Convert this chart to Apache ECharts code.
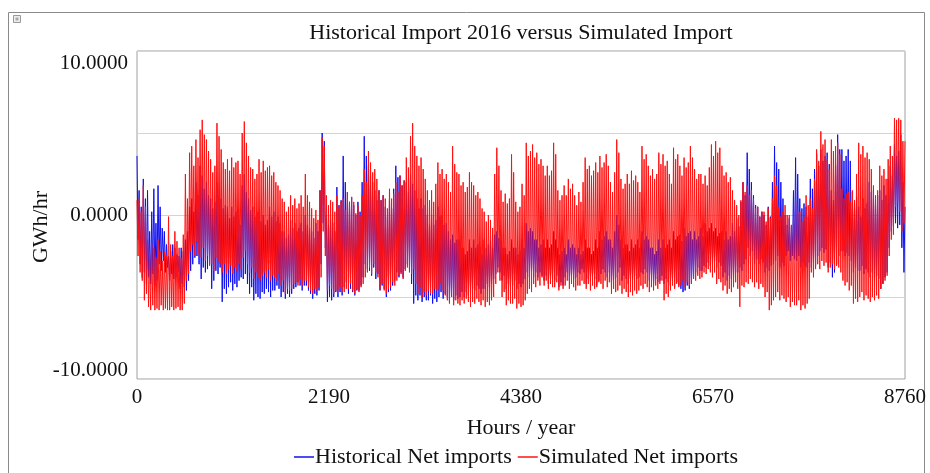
<!DOCTYPE html>
<html>
<head>
<meta charset="utf-8">
<script src="https://cdn.jsdelivr.net/npm/echarts@6/dist/echarts.min.js"></script>
<style>
html,body{margin:0;padding:0;background:#fff;}
#c{width:930px;height:473px;}
</style>
</head>
<body>
<div id="c"></div>
<script>
// Readings alternate daily high / daily low, one every 12 hours, starting at hour 0
var sampleHours = 12;

var xTicks = [0, 2190, 4380, 6570, 8760];
var yTickLabels = {"10": "10.0000", "0": "0.0000", "-10": "-10.0000"};

var seriesNames = ["Historical Net imports", "Simulated Net imports"];

// Historical Net imports (GWh/hr)
var historical = [
 3.6,-1.5, 1.5,-3.0, 0.5,-3.8, 2.2,-3.5, 1.0,-4.2,
 1.5,-3.8, -1.0,-4.2, 0.2,-3.6, 1.6,-4.3, -0.5,-4.0,
 1.8,-3.0, 0.5,-3.4, -0.8,-2.8, -1.0,-3.5, -1.8,-3.2,
 -2.5,-4.0, -2.2,-3.6, -1.8,-3.9, -2.0,-3.8, -2.4,-3.5,
 -2.5,-4.5, -2.0,-4.2, -2.2,-4.4, -1.5,-4.6, -1.0,-4.0,
 0.5,-3.4, 1.0,-3.0, 0.2,-2.6, 2.0,-2.5, 1.2,-3.0,
 3.0,-3.9, 2.4,-3.2, 1.6,-3.5, 2.0,-3.3, 1.2,-3.0,
 1.0,-4.5, 0.4,-4.0, 0.8,-3.4, 2.0,-3.6, 1.2,-3.2,
 1.0,-5.3, 0.4,-4.5, 0.6,-4.8, 0.5,-4.4, -0.2,-4.1,
 0.5,-4.6, -0.1,-4.2, 0.2,-4.4, 0.0,-4.0, -0.6,-3.8,
 1.8,-3.9, 2.5,-3.6, 1.4,-4.2, 1.0,-4.8, 0.3,-4.4,
 0.5,-5.2, -0.1,-4.8, 0.2,-5.0, 0.2,-5.1, -0.4,-4.7,
 0.0,-4.8, -0.6,-4.5, -0.3,-4.7, 0.5,-5.0, -0.1,-4.6,
 0.2,-4.6, -0.4,-4.3, -0.1,-4.5, -0.5,-5.0, -1.0,-4.7,
 -1.0,-5.1, -1.4,-4.8, -1.2,-5.0, -0.3,-4.8, -0.8,-4.5,
 -0.5,-4.4, -1.0,-4.1, -0.8,-4.3, -0.5,-4.6, -1.0,-4.3,
 0.0,-4.3, -0.6,-4.6, -0.8,-4.8, -1.0,-5.1, -1.4,-4.8,
 -0.5,-4.9, -1.0,-4.6, 1.5,-3.0, 5.0,-0.5, 4.5,-2.0,
 0.0,-5.3, -0.6,-5.0, -0.3,-5.2, -0.5,-5.0, -1.0,-4.7,
 1.7,-5.0, 0.6,-4.7, 0.9,-4.9, 3.6,-4.4, 2.0,-4.1,
 1.4,-4.8, 0.8,-4.5, 1.1,-4.7, 0.6,-4.9, 0.0,-4.6,
 0.8,-4.6, 0.2,-4.3, 2.0,-3.8, 4.8,-3.0, 3.6,-3.3,
 3.0,-3.4, 2.4,-3.7, 2.0,-3.2, 1.5,-3.9, 0.9,-3.6,
 1.5,-4.6, 0.9,-4.3, 1.2,-4.5, 0.5,-5.0, -0.1,-4.7,
 1.0,-4.6, 0.4,-4.3, 1.6,-4.0, 3.0,-3.5, 2.3,-3.8,
 2.4,-3.5, 1.8,-3.8, 2.1,-3.3, 2.0,-3.0, 1.4,-3.3,
 2.5,-4.2, 1.9,-5.4, 1.5,-4.9, 1.0,-5.2, 0.4,-4.9,
 1.0,-5.3, 0.4,-5.0, 0.6,-5.2, 0.0,-5.2, -0.6,-4.9,
 0.0,-5.4, -0.6,-5.1, -0.3,-5.3, 0.5,-5.0, -0.1,-4.7,
 0.0,-5.1, -0.6,-4.8, -0.5,-5.0, -1.0,-5.3, -1.5,-5.0,
 -1.2,-5.2, -1.7,-4.9, -1.5,-5.1, -1.5,-5.0, -2.0,-4.7,
 -2.0,-5.0, -2.4,-4.7, -2.2,-4.9, -1.5,-4.8, -2.0,-4.5,
 -1.5,-4.6, -2.0,-4.3, -1.8,-4.5, -2.0,-4.8, -2.4,-4.5,
 -1.5,-4.5, -2.0,-4.2, -1.8,-4.4, -1.5,-4.2, -2.0,-3.9,
 -1.2,-3.6, -1.0,-3.2, -1.4,-3.5, -1.5,-4.0, -2.0,-3.7,
 -2.0,-4.5, -2.4,-4.2, -2.2,-4.4, -1.5,-4.3, -2.0,-4.0,
 -2.0,-4.5, -2.4,-4.2, -2.2,-4.4, -1.5,-4.2, -2.0,-3.9,
 -0.5,-3.5, -1.0,-3.8, -0.8,-3.4, -1.0,-3.8, -1.5,-3.5,
 -1.5,-3.8, -2.0,-3.5, -1.8,-3.7, -1.5,-4.0, -2.0,-3.7,
 -1.5,-4.2, -2.0,-3.9, -1.8,-4.1, -1.0,-4.0, -1.5,-3.7,
 -2.0,-4.4, -2.4,-4.1, -2.2,-4.3, -2.0,-3.8, -2.4,-3.5,
 -1.5,-4.0, -2.0,-3.7, -1.8,-3.9, -2.0,-3.8, -2.4,-3.5,
 -2.0,-3.6, -2.4,-3.3, -2.2,-3.5, -1.5,-4.2, -2.0,-3.9,
 -2.0,-4.0, -2.4,-3.7, -2.2,-3.9, -1.5,-4.3, -2.0,-4.0,
 -1.0,-3.6, -1.5,-3.3, -1.3,-3.5, -1.0,-3.8, -1.5,-3.5,
 -1.5,-4.2, -2.0,-3.9, -1.0,-3.8, 0.0,-3.5, -0.6,-3.2,
 -1.5,-4.0, -2.0,-3.7, -1.8,-3.9, -1.8,-4.2, -2.2,-3.9,
 -1.5,-4.0, -2.0,-3.7, -1.8,-3.9, -1.5,-3.8, -2.0,-3.5,
 -1.0,-3.6, -1.5,-3.3, -1.3,-3.5, -1.5,-4.0, -2.0,-3.7,
 -2.0,-4.2, -2.4,-3.9, -2.2,-4.1, -1.5,-4.0, -2.0,-3.7,
 -1.5,-4.2, -2.0,-3.9, -1.8,-4.1, -1.5,-4.3, -2.0,-4.0,
 -1.0,-4.4, -1.5,-4.1, -1.3,-4.3, -1.2,-4.5, -1.6,-4.7,
 -0.8,-4.6, -1.3,-4.3, -1.1,-4.5, -1.0,-4.2, -1.5,-3.9,
 -1.0,-3.5, -1.5,-3.2, -1.3,-3.4, -0.8,-3.4, -1.3,-3.1,
 -0.5,-3.2, -1.0,-2.9, -0.8,-3.1, -0.5,-3.0, -1.0,-2.8,
 -0.8,-3.2, -1.3,-2.9, -1.1,-3.1, -1.0,-3.8, -1.5,-3.5,
 -1.0,-4.0, -1.5,-3.7, -1.3,-3.9, -0.5,-3.8, -1.0,-3.5,
 -0.2,-3.5, -0.7,-3.2, 0.8,-3.4, 2.0,-3.0, 1.2,-2.7,
 3.8,-2.0, 2.8,-2.5, 2.0,-2.2, 1.2,-3.0, 0.6,-2.7,
 0.5,-3.0, -0.1,-2.7, 0.2,-2.9, 0.0,-3.5, -0.6,-3.2,
 0.5,-3.4, -0.1,-3.1, 2.0,-3.0, 4.2,-2.8, 3.2,-2.5,
 2.8,-3.2, 2.0,-2.9, 1.0,-3.1, 0.0,-2.5, -0.6,-2.2,
 -0.2,-2.8, -0.7,-2.5, 1.5,-2.7, 3.5,-2.8, 2.5,-2.5,
 1.0,-3.2, 0.4,-2.9, 0.7,-3.1, 0.5,-3.2, -0.1,-2.9,
 2.2,-3.2, 1.6,-2.9, 2.8,-3.1, 3.7,-2.5, 3.0,-2.2,
 4.0,-2.0, 3.3,-2.3, 3.6,-2.1, 3.8,-3.2, 3.1,-2.9,
 1.5,-3.8, 0.9,-3.5, 3.0,-3.0, 4.9,-2.5, 4.0,-2.2,
 4.0,-2.2, 3.3,-2.5, 3.6,-2.3, 4.0,-2.5, 3.3,-2.8,
 1.4,-3.5, 0.8,-3.2, 1.1,-3.4, 0.5,-3.4, -0.1,-3.1,
 1.0,-3.6, 0.4,-3.3, 0.7,-3.5, 2.0,-3.8, 1.4,-3.5,
 1.5,-4.0, 0.9,-3.7, 1.2,-3.9, 1.5,-4.5, 0.9,-4.2,
 1.8,-3.8, 1.2,-3.5, 2.2,-2.0, 3.0,-1.0, 2.4,-0.7,
 4.3,-0.5, 3.6,-0.8, 3.9,-0.6, 4.9,-2.0, 2.0,-3.5,
 0.5
];

// Simulated Net imports (GWh/hr)
var simulated = [
 0.9,-2.5, 1.0,-3.5, 0.2,-4.0, 1.8,-5.2, 0.5,-4.8,
 -1.5,-5.6, -2.4,-5.8, -1.8,-5.5, -2.0,-5.8, -2.6,-5.7,
 -1.5,-5.8, -2.2,-5.5, -2.8,-5.8, -2.2,-5.7, -2.5,-5.8,
 -0.1,-5.8, -1.8,-5.6, -2.5,-5.8, -1.0,-5.7, -1.6,-5.6,
 -2.0,-5.8, -2.6,-5.8, -1.2,-5.4, 2.5,-4.0, 1.0,-3.6,
 3.8,-2.2, 4.2,-1.8, 3.0,-2.5, 4.6,-1.6, 3.5,-2.4,
 5.2,-2.6, 5.8,-2.0, 4.9,-2.8, 4.6,-2.5, 3.9,-3.1,
 3.4,-3.0, 2.6,-3.4, 3.0,-2.6, 5.6,-2.8, 4.8,-3.0,
 4.0,-3.5, 3.2,-3.0, 2.8,-3.6, 3.4,-3.3, 2.7,-3.1,
 3.5,-3.6, 2.9,-3.2, 3.2,-3.4, 3.3,-3.0, 2.5,-3.3,
 5.0,-2.6, 5.7,-2.2, 4.4,-3.0, 3.6,-3.5, 2.9,-3.2,
 2.8,-3.9, 2.2,-3.5, 2.5,-3.8, 3.4,-4.0, 2.6,-3.7,
 3.3,-3.5, 2.7,-3.8, 2.9,-3.3, 3.0,-4.0, 2.4,-3.7,
 2.6,-3.8, 2.0,-4.0, 1.8,-3.6, 1.5,-4.3, 1.0,-4.0,
 0.8,-4.8, 0.2,-4.5, 0.5,-4.6, 1.2,-4.5, 0.6,-4.2,
 1.0,-4.1, 0.4,-4.3, 0.7,-3.9, 1.2,-4.3, 0.5,-4.0,
 2.5,-4.0, 1.2,-4.4, 0.8,-4.6, 0.4,-4.8, -0.2,-4.5,
 0.3,-4.6, -0.3,-4.4, 1.5,-3.8, 4.7,-1.0, 4.2,-2.5,
 1.2,-4.6, 0.6,-4.3, 0.9,-4.5, 0.8,-4.8, 0.2,-4.6,
 1.2,-4.6, 0.5,-4.4, 0.8,-4.7, 1.0,-4.7, 0.3,-4.5,
 1.4,-4.5, 0.8,-4.2, 1.1,-4.6, 0.8,-4.8, 0.1,-4.5,
 0.6,-4.7, 0.0,-4.4, 1.2,-4.2, 2.8,-3.8, 2.0,-3.5,
 3.9,-3.2, 3.2,-3.6, 2.6,-3.0, 2.8,-3.5, 2.2,-3.8,
 1.5,-4.5, 0.9,-4.2, 1.2,-4.6, 1.0,-4.8, 0.4,-4.5,
 1.6,-4.4, 1.0,-4.1, 1.3,-4.3, 2.0,-4.0, 1.4,-3.7,
 2.4,-3.6, 1.8,-3.9, 2.1,-3.4, 3.5,-3.2, 2.9,-3.5,
 4.8,-3.6, 5.6,-3.3, 4.2,-4.2, 3.6,-4.8, 3.0,-4.4,
 3.5,-5.0, 2.8,-4.7, 2.2,-4.9, 1.5,-4.6, 0.9,-4.8,
 1.5,-4.8, 0.8,-4.5, 1.9,-4.6, 3.2,-4.5, 2.5,-4.2,
 2.8,-4.6, 2.2,-4.9, 2.5,-5.2, 2.0,-5.4, 1.4,-5.0,
 4.2,-5.5, 3.1,-5.2, 2.6,-5.4, 2.5,-5.5, 1.8,-5.2,
 2.0,-5.4, 1.4,-5.1, 1.7,-5.3, 2.6,-5.6, 2.0,-5.3,
 1.8,-5.4, 1.2,-5.1, 1.4,-5.3, 1.0,-5.5, 0.4,-5.2,
 0.2,-5.6, -0.4,-5.3, 0.0,-5.5, -0.3,-5.2, -0.8,-5.0,
 2.5,-4.2, 4.1,-3.5, 3.0,-4.0, 1.5,-5.0, 0.8,-4.7,
 1.3,-5.5, 0.7,-5.2, 1.0,-5.4, 3.7,-5.4, 2.6,-5.1,
 0.8,-5.7, 0.2,-5.4, 0.5,-5.6, 1.9,-5.5, 1.2,-5.2,
 4.4,-4.8, 3.6,-4.5, 3.9,-4.7, 4.3,-4.2, 3.5,-4.4,
 3.8,-4.0, 3.1,-4.3, 3.4,-3.8, 3.0,-4.3, 2.4,-4.0,
 3.0,-4.5, 2.4,-4.2, 2.7,-4.4, 4.4,-4.4, 3.7,-4.1,
 1.5,-4.6, 0.9,-4.3, 1.2,-4.5, 1.8,-4.3, 1.2,-4.0,
 2.2,-4.5, 1.6,-4.2, 1.9,-4.4, 1.2,-4.6, 0.6,-4.3,
 1.4,-4.3, 0.8,-4.0, 2.0,-4.2, 3.5,-4.5, 2.8,-4.2,
 3.0,-4.6, 2.4,-4.3, 2.7,-4.5, 3.2,-4.4, 2.6,-4.1,
 3.6,-4.2, 2.9,-4.5, 3.2,-4.0, 3.7,-4.4, 3.0,-4.1,
 2.0,-4.8, 1.4,-4.5, 2.6,-4.7, 4.6,-4.6, 3.8,-4.3,
 2.2,-4.8, 1.6,-4.5, 1.9,-4.7, 2.5,-5.0, 1.9,-4.7,
 2.7,-4.9, 2.1,-4.6, 2.4,-4.8, 2.0,-4.6, 1.4,-4.3,
 4.2,-4.5, 3.4,-4.2, 3.7,-4.4, 3.0,-4.7, 2.4,-4.4,
 2.8,-4.6, 2.2,-4.3, 2.5,-4.5, 3.8,-4.2, 3.1,-4.0,
 3.7,-5.2, 3.0,-4.8, 3.3,-5.0, 2.5,-4.6, 1.9,-4.3,
 4.1,-4.5, 3.4,-4.2, 3.7,-4.4, 3.0,-4.3, 2.4,-4.0,
 3.5,-4.4, 2.9,-4.1, 3.2,-4.3, 4.2,-4.2, 3.5,-3.9,
 2.8,-4.0, 2.2,-3.7, 2.5,-3.9, 2.5,-3.8, 1.9,-3.5,
 2.4,-3.6, 1.8,-3.3, 2.9,-3.5, 4.3,-3.8, 3.6,-3.5,
 4.5,-4.2, 3.8,-3.9, 4.1,-4.1, 3.0,-4.6, 2.4,-4.3,
 2.6,-4.8, 2.0,-4.5, 2.3,-4.7, 1.5,-4.4, 0.9,-4.1,
 0.6,-4.5, 0.0,-5.6, 0.9,-4.3, 2.0,-4.4, 1.4,-4.1,
 1.8,-4.2, 1.2,-3.9, 1.5,-4.1, 1.0,-4.4, 0.4,-4.1,
 0.5,-4.5, -0.1,-4.2, 0.2,-4.4, 0.2,-5.0, -0.4,-4.7,
 0.4,-5.8, -0.2,-5.5, 1.0,-5.2, 2.4,-5.0, 1.8,-4.7,
 0.5,-5.2, -0.1,-4.9, 0.2,-5.1, 0.6,-5.3, 0.0,-5.0,
 0.0,-5.6, -0.6,-5.3, -0.3,-5.5, 0.8,-5.5, 0.2,-5.2,
 0.2,-5.8, -0.4,-5.5, -0.1,-5.7, 1.2,-5.4, 0.6,-5.1,
 1.0,-3.5, 0.4,-3.8, 2.2,-3.3, 4.0,-3.0, 3.3,-3.3,
 5.1,-2.8, 4.3,-3.1, 4.6,-2.9, 3.4,-3.5, 2.8,-3.2,
 4.6,-3.0, 3.9,-3.3, 4.2,-3.1, 4.4,-3.2, 3.7,-3.5,
 1.6,-4.0, 1.0,-4.3, 1.3,-4.1, 1.4,-4.6, 0.8,-4.3,
 1.5,-5.4, 0.9,-5.1, 2.5,-5.3, 4.4,-5.0, 3.7,-4.7,
 4.2,-5.2, 3.5,-4.9, 3.8,-5.1, 3.4,-5.3, 2.8,-5.0,
 1.8,-5.2, 1.2,-4.9, 1.5,-5.1, 3.0,-4.5, 2.4,-4.2,
 2.8,-4.0, 2.2,-3.7, 3.4,-2.5, 4.2,-1.5, 3.6,-1.2,
 5.9,0.5, 5.8,0.8, 5.9,0.2, 5.8,-1.0, 4.5,-0.5,
 4.5
];

function toPoints(arr) {
  return arr.map(function (v, i) { return [i * sampleHours, v]; });
}

var serif = '"Liberation Serif", "DejaVu Serif", serif';
var txt = '#111';
var chart = echarts.init(document.getElementById('c'), null, {renderer: 'canvas'});

chart.setOption({
  animation: false,
  backgroundColor: '#fff',
  title: {
    text: 'Historical Import 2016 versus Simulated Import',
    left: 521,
    textAlign: 'center',
    top: 22,
    padding: 0,
    textStyle: {fontFamily: serif, fontSize: 22, fontWeight: 'normal', color: txt}
  },
  graphic: [
    {type: 'rect', shape: {x: 8.5, y: 12.5, width: 916, height: 470}, style: {fill: 'none', stroke: '#8a8a8a', lineWidth: 1}, silent: true},
    {type: 'rect', shape: {x: 13.5, y: 15.5, width: 7, height: 7}, style: {fill: '#eee', stroke: '#999', lineWidth: 1}, silent: true},
    {type: 'rect', shape: {x: 15.5, y: 17.5, width: 3, height: 3}, style: {fill: '#aaa'}, silent: true}
  ],
  legend: {
    data: seriesNames,
    top: 441,
    left: 289,
    icon: 'rect',
    itemWidth: 20,
    itemHeight: 1.5,
    itemGap: 6,
    textStyle: {fontFamily: serif, fontSize: 22, color: txt, padding: [0, 0, 0, -4]}
  },
  grid: {left: 137, top: 51, width: 768, height: 328, show: true, borderColor: '#a0a0a0', borderWidth: 1},
  xAxis: {
    type: 'value',
    min: xTicks[0],
    max: xTicks[xTicks.length - 1],
    interval: xTicks[1] - xTicks[0],
    name: 'Hours / year',
    nameLocation: 'middle',
    nameGap: 38,
    nameMoveOverlap: false,
    nameTextStyle: {fontFamily: serif, fontSize: 22, color: txt},
    axisLine: {show: false},
    axisTick: {show: false},
    splitLine: {show: false},
    axisLabel: {fontFamily: serif, fontSize: 21, color: txt, margin: 8, formatter: function (v) { return String(v); }}
  },
  yAxis: {
    type: 'value',
    min: -10,
    max: 10,
    interval: 5,
    name: 'GWh/hr',
    nameLocation: 'middle',
    nameGap: 85,
    nameMoveOverlap: false,
    nameTextStyle: {fontFamily: serif, fontSize: 22, color: txt, padding: [0, 24, 0, 0]},
    axisLine: {show: false},
    axisTick: {show: false},
    splitLine: {show: true, lineStyle: {color: '#d4d4d4', width: 1}},
    axisLabel: {
      margin: 9,
      formatter: function (v) {
        var s = yTickLabels[String(v)];
        if (!s) return '';
        if (v > 0) return '{t|' + s + '}';
        if (v < 0) return '{b|' + s + '}';
        return '{m|' + s + '}';
      },
      rich: {
        t: {fontFamily: serif, fontSize: 21, color: txt, padding: [24, 0, 0, 0]},
        m: {fontFamily: serif, fontSize: 21, color: txt},
        b: {fontFamily: serif, fontSize: 21, color: txt, padding: [0, 0, 18, 0]}
      }
    }
  },
  series: [
    {name: seriesNames[0], type: 'line', data: toPoints(historical), symbol: 'none', color: '#1010f0', lineStyle: {width: 1, color: '#1010f0'}},
    {name: seriesNames[1], type: 'line', data: toPoints(simulated), symbol: 'none', color: '#ff1010', lineStyle: {width: 1, color: '#ff1010'}}
  ]
});
</script>
</body>
</html>
